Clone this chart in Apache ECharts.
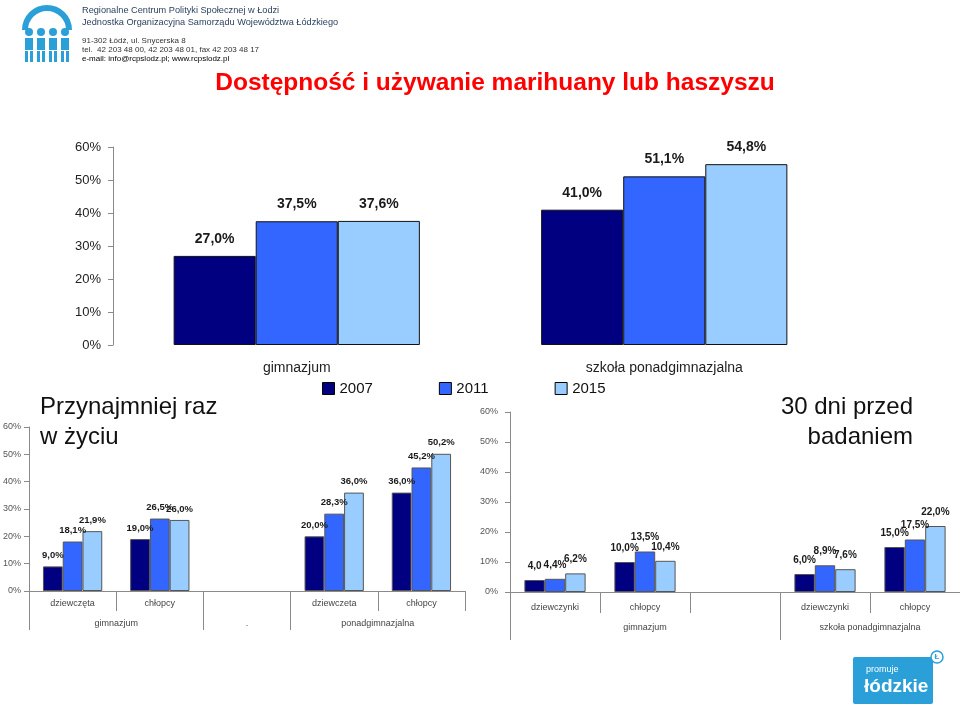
<!DOCTYPE html>
<html><head><meta charset="utf-8">
<script src="https://cdn.jsdelivr.net/npm/echarts@6/dist/echarts.min.js"></script>
<style>html,body{margin:0;padding:0;background:#fff}#c{width:960px;height:708px}</style>
</head><body><div id="c"></div>
<script>
// ---- data ----
const years = ['2007', '2011', '2015'];
const topCats = ['gimnazjum', 'szkoła ponadgimnazjalna'];
const top2007 = [27.0, 41.0];
const top2011 = [37.5, 51.1];
const top2015 = [37.6, 54.8];

const lifeCats = ['dziewczęta', 'chłopcy', '', 'dziewczeta', 'chłopcy'];
const lifeGroups = ['gimnazjum', '.', 'ponadgimnazjalna'];
const life2007 = [9.0, 19.0, null, 20.0, 36.0];
const life2011 = [18.1, 26.5, null, 28.3, 45.2];
const life2015 = [21.9, 26.0, null, 36.0, 50.2];

const monthCats = ['dziewczynki', 'chłopcy', '', 'dziewczynki', 'chłopcy'];
const monthGroups = ['gimnazjum', 'szkoła ponadgimnazjalna'];
const month2007 = [4.0, 10.0, null, 6.0, 15.0];
const month2011 = [4.4, 13.5, null, 8.9, 17.5];
const month2015 = [6.2, 10.4, null, 7.6, 22.0];
// label shown without "%" in the original (first bar of the 30-day chart)
const month2007ShowPct = [false, true, true, true, true];

const yMin = 0, yMax = 60, yStep = 10;

// ---- styles ----
const colors = ['#000080', '#3366FF', '#99CCFF'];
const FONT = 'Liberation Sans, Arial, sans-serif';
const fmtVal = (v, pct) => v.toFixed(1).replace('.', ',') + (pct === false ? '' : '%');

const chart = echarts.init(document.getElementById('c'));

function barSeries(name, data, axisIdx, color, opts) {
  return {
    type: 'bar', name: name, data: data,
    xAxisIndex: axisIdx, yAxisIndex: opts.y,
    barGap: '0%', barCategoryGap: opts.gap,
    itemStyle: { color: color, borderColor: opts.border, borderWidth: 1 },
    label: {
      show: true, position: 'top', distance: opts.dist,
      fontFamily: FONT, fontWeight: 'bold', fontSize: opts.fs, color: '#1a1a1a',
      formatter: p => fmtVal(p.value, opts.pct ? opts.pct[p.dataIndex] : true)
    },
    emphasis: { disabled: true },
    animation: false
  };
}

const topData = [top2007, top2011, top2015];
const lifeData = [life2007, life2011, life2015];
const monthData = [month2007, month2011, month2015];

const series = [];
years.forEach((y, i) => series.push(barSeries(y, topData[i], 0, colors[i], { y: 0, gap: '33%', border: '#111', dist: 10, fs: 14 })));
years.forEach((y, i) => series.push(barSeries(y, lifeData[i], 1, colors[i], { y: 1, gap: '32%', border: '#555', dist: 6, fs: 9.5 })));
years.forEach((y, i) => series.push(barSeries(y, monthData[i], 3, colors[i], { y: 2, gap: '32%', border: '#555', dist: 9, fs: 10, pct: i === 0 ? month2007ShowPct : null })));

function yAx(grid, fs, margin, color) {
  return {
    type: 'value', gridIndex: grid, min: yMin, max: yMax, interval: yStep,
    axisLine: { show: true, lineStyle: { color: '#8a8a8a' } },
    axisTick: { show: true, length: 5, lineStyle: { color: '#8a8a8a' } },
    splitLine: { show: false },
    axisLabel: { fontFamily: FONT, fontSize: fs, color: color, margin: margin, formatter: '{value}%' }
  };
}

const lifeGroupPos = [1, 2.5, 4];
const monthGroupPos = [1.5, 4];

chart.setOption({
  backgroundColor: '#fff',
  animation: false,
  legend: {
    data: years, left: 317, top: 376, icon: 'rect',
    itemWidth: 12, itemHeight: 12, itemGap: 66,
    itemStyle: { borderColor: '#000', borderWidth: 1 },
    textStyle: { fontFamily: FONT, fontSize: 15, color: '#111' },
    selectedMode: false
  },
  grid: [
    { left: 113, right: 112, top: 147, bottom: 363 },
    { left: 29, right: 495, top: 427, bottom: 117 },
    { left: 510, right: 0, top: 412, bottom: 116 }
  ],
  xAxis: [
    { type: 'category', gridIndex: 0, data: topCats, position: 'bottom',
      axisLine: { show: false }, axisTick: { show: false },
      axisLabel: { fontFamily: FONT, fontSize: 14, color: '#222', margin: 16 } },
    { type: 'category', gridIndex: 1, data: lifeCats, position: 'bottom',
      axisLine: { show: true, lineStyle: { color: '#8a8a8a' } },
      axisTick: { show: true, interval: 0, length: 20, lineStyle: { color: '#8a8a8a' } },
      axisLabel: { interval: 0, fontFamily: FONT, fontSize: 9, color: '#444', margin: 8 } },
    { type: 'value', gridIndex: 1, min: 0, max: lifeCats.length, position: 'bottom', offset: 0,
      axisLine: { show: false }, splitLine: { show: false },
      axisTick: { show: true, customValues: [0, 2, 3], length: 39, lineStyle: { color: '#8a8a8a' } },
      axisLabel: { customValues: lifeGroupPos, fontFamily: FONT, fontSize: 9, color: '#444', margin: 28,
        formatter: v => lifeGroups[lifeGroupPos.indexOf(v)] || '' } },
    { type: 'category', gridIndex: 2, data: monthCats, position: 'bottom',
      axisLine: { show: true, lineStyle: { color: '#8a8a8a' } },
      axisTick: { show: true, interval: 0, length: 21, lineStyle: { color: '#8a8a8a' } },
      axisLabel: { interval: 0, fontFamily: FONT, fontSize: 9, color: '#444', margin: 11 } },
    { type: 'value', gridIndex: 2, min: 0, max: monthCats.length, position: 'bottom', offset: 0,
      axisLine: { show: false }, splitLine: { show: false },
      axisTick: { show: true, customValues: [0, 3], length: 48, lineStyle: { color: '#8a8a8a' } },
      axisLabel: { customValues: monthGroupPos, fontFamily: FONT, fontSize: 9, color: '#444', margin: 31,
        formatter: v => monthGroups[monthGroupPos.indexOf(v)] || '' } }
  ],
  yAxis: [ yAx(0, 13, 12, '#222'), yAx(1, 9, 8, '#555'), yAx(2, 9, 12, '#555') ],
  series: series,
  graphic: [
    // header logo (top-left)
    { type: 'arc', shape: { cx: 47, cy: 30, r: 22, startAngle: Math.PI, endAngle: 2 * Math.PI }, style: { stroke: '#2a9fd8', lineWidth: 6, fill: null } },
    { type: 'circle', shape: { cx: 29, cy: 32, r: 4 }, style: { fill: '#2a9fd8' } },
    { type: 'circle', shape: { cx: 41, cy: 32, r: 4 }, style: { fill: '#2a9fd8' } },
    { type: 'circle', shape: { cx: 53, cy: 32, r: 4 }, style: { fill: '#2a9fd8' } },
    { type: 'circle', shape: { cx: 65, cy: 32, r: 4 }, style: { fill: '#2a9fd8' } },
    { type: 'rect', shape: { x: 25, y: 38, width: 8, height: 12 }, style: { fill: '#2a9fd8' } },
    { type: 'rect', shape: { x: 37, y: 38, width: 8, height: 12 }, style: { fill: '#2a9fd8' } },
    { type: 'rect', shape: { x: 49, y: 38, width: 8, height: 12 }, style: { fill: '#2a9fd8' } },
    { type: 'rect', shape: { x: 61, y: 38, width: 8, height: 12 }, style: { fill: '#2a9fd8' } },
    { type: 'rect', shape: { x: 25, y: 51, width: 3, height: 11 }, style: { fill: '#2a9fd8' } },
    { type: 'rect', shape: { x: 30, y: 51, width: 3, height: 11 }, style: { fill: '#2a9fd8' } },
    { type: 'rect', shape: { x: 37, y: 51, width: 3, height: 11 }, style: { fill: '#2a9fd8' } },
    { type: 'rect', shape: { x: 42, y: 51, width: 3, height: 11 }, style: { fill: '#2a9fd8' } },
    { type: 'rect', shape: { x: 49, y: 51, width: 3, height: 11 }, style: { fill: '#2a9fd8' } },
    { type: 'rect', shape: { x: 54, y: 51, width: 3, height: 11 }, style: { fill: '#2a9fd8' } },
    { type: 'rect', shape: { x: 61, y: 51, width: 3, height: 11 }, style: { fill: '#2a9fd8' } },
    { type: 'rect', shape: { x: 66, y: 51, width: 3, height: 11 }, style: { fill: '#2a9fd8' } },
    // header text
    { type: 'text', x: 82, y: 10, style: { text: 'Regionalne Centrum Polityki Społecznej w Łodzi', font: '9.2px ' + FONT, fill: '#2b3f5c', textVerticalAlign: 'middle' } },
    { type: 'text', x: 82, y: 22, style: { text: 'Jednostka Organizacyjna Samorządu Województwa Łódzkiego', font: '9.2px ' + FONT, fill: '#2b3f5c', textVerticalAlign: 'middle' } },
    { type: 'text', x: 82, y: 41, style: { text: '91-302 Łódź, ul. Snycerska 8', font: '8px ' + FONT, fill: '#333', textVerticalAlign: 'middle' } },
    { type: 'text', x: 82, y: 50, style: { text: 'tel.  42 203 48 00, 42 203 48 01, fax 42 203 48 17', font: '8px ' + FONT, fill: '#333', textVerticalAlign: 'middle' } },
    { type: 'text', x: 82, y: 59, style: { text: '{a|e-mail: }{b|info@rcpslodz.pl; www.rcpslodz.pl}', textVerticalAlign: 'middle',
        rich: { a: { fontSize: 8, fontFamily: FONT, color: '#333' }, b: { fontSize: 8, fontFamily: FONT, color: '#1e8fd2' } } } },
    // main title
    { type: 'text', x: 495, y: 83, style: { text: 'Dostępność i używanie marihuany lub haszyszu', font: 'bold 24.5px ' + FONT, fill: '#ff0000', textAlign: 'center', textVerticalAlign: 'middle' } },
    // sub titles
    { type: 'text', x: 40, y: 392, style: { text: 'Przynajmniej raz\nw życiu', font: '24px ' + FONT, fill: '#111', lineHeight: 30 } },
    { type: 'text', x: 913, y: 392, style: { text: '30 dni przed\nbadaniem', font: '24px ' + FONT, fill: '#111', lineHeight: 30, textAlign: 'right' } },
    // bottom-right logo
    { type: 'rect', shape: { x: 853, y: 657, width: 80, height: 47, r: 2 }, style: { fill: '#2a9fd8' } },
    { type: 'text', x: 866, y: 670, style: { text: 'promuje', font: '9px ' + FONT, fill: '#fff', textVerticalAlign: 'middle' } },
    { type: 'text', x: 864, y: 687, style: { text: 'łódzkie', font: 'bold 19px ' + FONT, fill: '#fff', textVerticalAlign: 'middle' } },
    { type: 'circle', shape: { cx: 937, cy: 657, r: 6 }, style: { fill: '#fff', stroke: '#2a9fd8', lineWidth: 1.5 } },
    { type: 'text', x: 937, y: 657, style: { text: 'Ł', font: 'bold 8px ' + FONT, fill: '#2a9fd8', textAlign: 'center', textVerticalAlign: 'middle' } }
  ]
});
</script>
</body></html>
